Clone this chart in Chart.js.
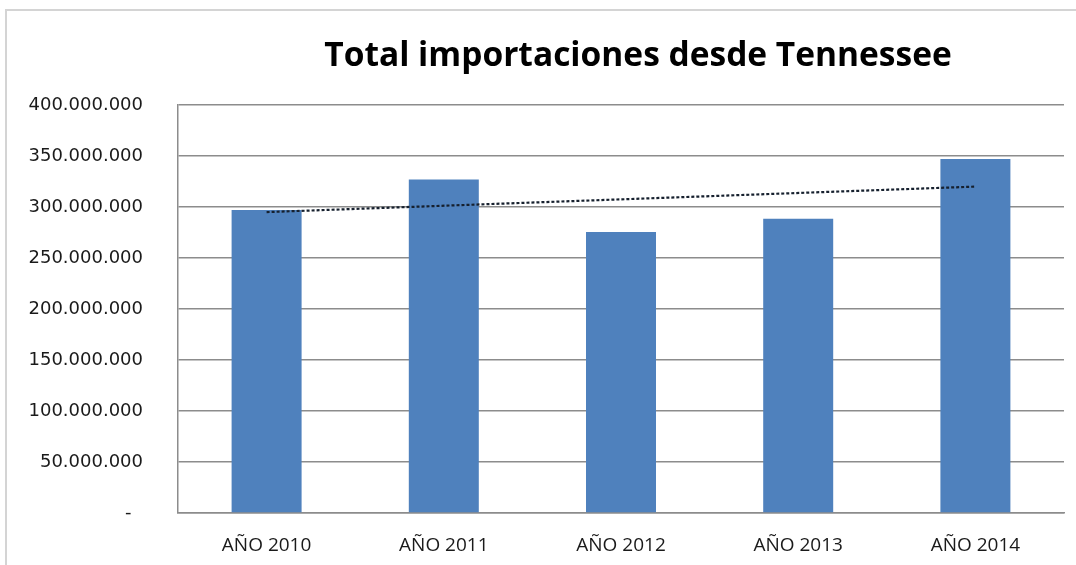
<!DOCTYPE html>
<html>
<head>
<meta charset="utf-8">
<script src="https://cdn.jsdelivr.net/npm/chart.js@4.4.1/dist/chart.umd.min.js"></script>
<style>
  html, body { margin: 0; padding: 0; background: #ffffff; overflow: hidden; }
  #frame { position: absolute; left: 5px; top: 9px; width: 1200px; height: 700px; border: 2px solid #d4d4d4; box-sizing: border-box; }
  #wrap { position: absolute; left: 0; top: 0; width: 1076px; height: 565px; }
</style>
</head>
<body>
<div id="frame"></div>
<div id="wrap"><canvas id="c" width="1076" height="565"></canvas></div>
<script>
const titleText = 'Total importaciones desde Tennessee';
const categories = ['AÑO 2010', 'AÑO 2011', 'AÑO 2012', 'AÑO 2013', 'AÑO 2014'];
const importaciones = [297000000, 327000000, 275500000, 288500000, 347000000];
// linear trend line (start and end points)
const trendline = [295000000, null, null, null, 320000000];
const yTicks = [0, 50000000, 100000000, 150000000, 200000000, 250000000, 300000000, 350000000, 400000000];

function fmt(v) {
  if (v === 0) return '-  ';
  return String(Math.round(v)).replace(/\B(?=(\d{3})+(?!\d))/g, '.');
}

const titlePlugin = {
  id: 'titleDraw',
  afterDraw(chart) {
    const ctx = chart.ctx;
    ctx.save();
    ctx.font = 'bold 33.5px "Open Sans"';
    ctx.fillStyle = '#000000';
    ctx.textAlign = 'center';
    ctx.textBaseline = 'alphabetic';
    ctx.fillText(titleText, 638, 66);
    ctx.restore();
  }
};

new Chart(document.getElementById('c'), {
  type: 'bar',
  data: {
    labels: categories,
    datasets: [
      {
        type: 'line',
        data: trendline,
        spanGaps: true,
        borderColor: '#16202e',
        borderWidth: 2.2,
        borderDash: [3, 2],
        pointRadius: 0,
        fill: false,
        order: 0
      },
      {
        data: importaciones,
        backgroundColor: '#4F81BD',
        borderWidth: 0,
        categoryPercentage: 1,
        barPercentage: 0.395,
        order: 1
      }
    ]
  },
  options: {
    responsive: false,
    animation: false,
    layout: { padding: { top: 105, left: 28, right: 12, bottom: 0 } },
    plugins: {
      legend: { display: false },
      title: { display: false },
      tooltip: { enabled: false }
    },
    scales: {
      x: {
        grid: { display: false, drawTicks: false },
        border: { display: true, color: '#8c8c8c', width: 1.5 },
        ticks: { color: '#1a1a1a', font: { family: '"Open Sans"', size: 19 }, padding: 21 },
        afterFit(s) { s.height = 52; }
      },
      y: {
        min: 0,
        max: 400000000,
        afterBuildTicks(s) { s.ticks = yTicks.map(v => ({ value: v })); },
        grid: { color: '#8c8c8c', lineWidth: 1.5, drawTicks: false },
        border: { display: true, color: '#8c8c8c', width: 1.5 },
        ticks: { color: '#1a1a1a', font: { family: '"DejaVu Sans"', size: 18 }, padding: 35, callback: (v) => fmt(v) },
        afterFit(s) { s.width = 150; }
      }
    }
  },
  plugins: [titlePlugin]
});
</script>
</body>
</html>
